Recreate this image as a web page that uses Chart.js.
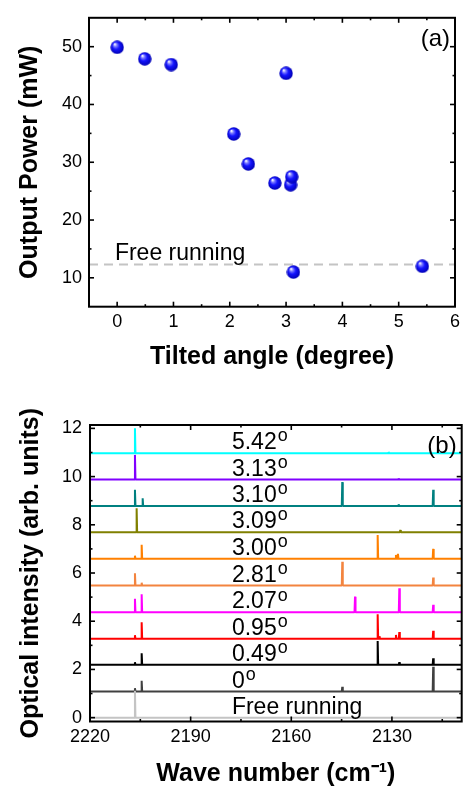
<!DOCTYPE html>
<html>
<head>
<meta charset="utf-8">
<script src="https://cdn.jsdelivr.net/npm/chart.js@4.4.1/dist/chart.umd.min.js"></script>
<style>
  html, body { margin: 0; padding: 0; background: #fff; }
  #wrap { position: relative; width: 465px; height: 789px; overflow: hidden; }
  canvas { position: absolute; left: 0; }
  #chartA { top: 0; }
  #chartB { top: 395px; }
</style>
</head>
<body>
<div id="wrap">
  <canvas id="chartA" width="465" height="395"></canvas>
  <canvas id="chartB" width="465" height="394"></canvas>
</div>
<script>
// ---- (a) potencia de salida vs angulo ----
const angles = [0, 0.49, 0.96, 2.07, 2.33, 2.80, 3.00, 3.08, 3.10, 3.13, 5.42];
const powers = [49.9, 47.9, 46.9, 34.9, 29.7, 26.4, 45.4, 26.1, 27.5, 11.0, 12.0];
const freeRunningPower = 12.3;
const angleTicks = [0, 1, 2, 3, 4, 5, 6];
const angleMinor = [0.5, 1.5, 2.5, 3.5, 4.5, 5.5];
const powerTicks = [10, 20, 30, 40, 50];
const powerMinor = [15, 25, 35, 45];

// ---- (b) espectros ----
const traceLabels = ["Free running", "0", "0.49", "0.95", "2.07", "2.81", "3.00", "3.09", "3.10", "3.13", "5.42"];
const traceOffsets = [0, 1.08, 2.19, 3.27, 4.37, 5.48, 6.59, 7.69, 8.78, 9.88, 10.97];
// picos: [numero de onda, intensidad]
const tracePeaks = [
  [[2206.6, 1.12]],
  [[2206.6, 1.22], [2204.6, 1.53], [2144.8, 1.28], [2117.7, 2.11]],
  [[2206.6, 2.3], [2204.6, 2.67], [2134.25, 3.18], [2127.8, 2.3], [2117.7, 2.46]],
  [[2206.6, 3.42], [2204.6, 3.96], [2134.25, 4.29], [2133.7, 3.38], [2128.8, 3.43], [2127.8, 3.55], [2117.7, 3.6]],
  [[2206.6, 4.93], [2204.6, 5.12], [2141.0, 5.02], [2127.8, 5.37], [2117.7, 4.68]],
  [[2206.6, 5.99], [2204.6, 5.6], [2144.8, 6.47], [2117.7, 5.81]],
  [[2206.6, 6.72], [2204.6, 7.17], [2134.25, 7.58], [2128.8, 6.75], [2128.2, 6.8], [2117.7, 7.0]],
  [[2206.1, 8.69], [2127.5, 7.78]],
  [[2206.6, 9.45], [2204.3, 9.1], [2144.8, 9.77], [2128.0, 8.85], [2117.7, 9.45]],
  [[2206.6, 10.9], [2128.0, 9.93]],
  [[2206.6, 12.0], [2131.0, 11.02]]
];
const waveTicks = [2220, 2190, 2160, 2130];
const waveMinor = [2205, 2175, 2145, 2115];
const intensityTicks = [0, 2, 4, 6, 8, 10, 12];
const intensityMinor = [1, 3, 5, 7, 9, 11];

const traceColors = ["#c4c4c4", "#404040", "#000000", "#ff0000", "#ff00ff", "#f3843f",
  "#ff8000", "#808000", "#008080", "#8000ff", "#00ffff"];

const familia = "'Liberation Sans', Arial, sans-serif";
Chart.defaults.font.family = familia;
Chart.defaults.color = "#000";

// esfera azul para los puntos
function crearEsfera(r) {
  const c = document.createElement("canvas");
  c.width = c.height = r * 2;
  const g = c.getContext("2d");
  const grad = g.createRadialGradient(r - r * 0.35, r - r * 0.45, r * 0.05, r, r, r);
  grad.addColorStop(0, "#ffffff");
  grad.addColorStop(0.22, "#7a7aff");
  grad.addColorStop(0.5, "#1414ff");
  grad.addColorStop(1, "#0000b0");
  g.fillStyle = grad;
  g.beginPath();
  g.arc(r, r, r - 0.3, 0, Math.PI * 2);
  g.fill();
  return c;
}

// texto con "o" en superindice
function textoGrado(ctx, txt, x, cy, size, grado) {
  ctx.font = `${size}px ${familia}`;
  ctx.textAlign = "left";
  ctx.textBaseline = "alphabetic";
  const base = cy + size * 0.358;
  ctx.fillText(txt, x, base);
  if (grado) {
    const w = ctx.measureText(txt).width;
    const os = size * 0.78;
    ctx.font = `${os}px ${familia}`;
    ctx.fillText("o", x + w + 1, base - size * 0.716 - 1 + os * 0.53);
  }
}

// marco, ticks hacia dentro y textos
const marcoPlugin = {
  id: "marco",
  afterDatasetsDraw(chart, args, opts) {
    const ctx = chart.ctx;
    const { left, right, top, bottom } = chart.chartArea;
    const sx = chart.scales.x, sy = chart.scales.y;
    ctx.save();
    ctx.strokeStyle = "#000";
    ctx.lineWidth = 1.6;
    const linea = (x1, y1, x2, y2) => { ctx.beginPath(); ctx.moveTo(x1, y1); ctx.lineTo(x2, y2); ctx.stroke(); };
    const marcarX = (vals, len) => vals.forEach((v) => {
      const p = sx.getPixelForValue(v);
      linea(p, bottom, p, bottom - len);
      linea(p, top, p, top + len);
    });
    const marcarY = (vals, len) => vals.forEach((v) => {
      const p = sy.getPixelForValue(v);
      linea(left, p, left + len, p);
      linea(right, p, right - len, p);
    });
    marcarX(opts.xMajor, 5);
    marcarX(opts.xMinor, 2.5);
    marcarY(opts.yMajor, 5);
    marcarY(opts.yMinor, 2.5);
    ctx.lineWidth = 2;
    ctx.strokeRect(left, top, right - left, bottom - top);

    ctx.fillStyle = "#000";
    ctx.font = `24px ${familia}`;
    ctx.textAlign = "right";
    ctx.textBaseline = "middle";
    ctx.fillText(opts.panel, right - 5, top + opts.panelDy);
    (opts.textos || []).forEach((t) => {
      textoGrado(ctx, t.texto, sx.getPixelForValue(t.x), sy.getPixelForValue(t.y) + (t.dy || 0), 23, t.grado);
    });
    ctx.restore();
  }
};

function fijarTicks(valores) {
  return (s) => { s.ticks = valores.map((v) => ({ value: v })); };
}
const sinComa = (v) => String(v);

// ---------- grafica (a) ----------
const ctxA = document.getElementById("chartA").getContext("2d");
new Chart(ctxA, {
  type: "scatter",
  data: {
    datasets: [
      {
        data: angles.map((a, i) => ({ x: a, y: powers[i] })),
        pointStyle: crearEsfera(7),
        pointRadius: 7,
        order: 1
      },
      {
        data: [{ x: -0.5, y: freeRunningPower }, { x: 6, y: freeRunningPower }],
        showLine: true,
        borderColor: "#c4c4c4",
        borderWidth: 2,
        borderDash: [9, 6],
        pointRadius: 0,
        order: 2
      }
    ]
  },
  options: {
    responsive: false,
    animation: false,
    devicePixelRatio: 1,
    layout: { padding: { top: 8.3, right: 5, left: 0, bottom: 0 } },
    plugins: {
      legend: { display: false },
      tooltip: { enabled: false },
      marco: {
        xMajor: angleTicks, xMinor: angleMinor, yMajor: powerTicks, yMinor: powerMinor,
        panel: "(a)", panelDy: 22,
        textos: [{ texto: "Free running", x: -0.04, y: freeRunningPower, dy: -12.5, grado: false }]
      }
    },
    scales: {
      x: {
        type: "linear", min: -0.5, max: 6,
        afterBuildTicks: fijarTicks(angleTicks),
        afterFit: (s) => { s.height = 88.3; },
        grid: { display: false, drawTicks: false },
        border: { display: false },
        ticks: { font: { size: 18 }, color: "#000", padding: 5, callback: sinComa },
        title: { display: true, text: "Tilted angle (degree)", font: { size: 25, weight: "bold" }, padding: { top: 0, bottom: 23 } }
      },
      y: {
        type: "linear", min: 5, max: 55,
        afterBuildTicks: fijarTicks(powerTicks),
        afterFit: (s) => { s.width = 89; },
        grid: { display: false, drawTicks: false },
        border: { display: false },
        ticks: { font: { size: 18 }, color: "#000", padding: 7, callback: sinComa },
        title: { display: true, text: "Output Power (mW)", font: { size: 25, weight: "bold" }, padding: { top: 15, bottom: 0 } }
      }
    }
  },
  plugins: [marcoPlugin]
});

// ---------- grafica (b) ----------
const ancho = 0.15;
const datasetsB = traceLabels.map((nombre, i) => {
  const base = traceOffsets[i];
  const puntos = [{ x: 2220, y: base }];
  tracePeaks[i].forEach(([w, h]) => {
    puntos.push({ x: w + ancho, y: base }, { x: w, y: h }, { x: w - ancho, y: base });
  });
  puntos.push({ x: 2109, y: base });
  return {
    label: nombre,
    data: puntos,
    showLine: true,
    borderColor: traceColors[i],
    borderWidth: 2,
    borderJoinStyle: "bevel",
    pointRadius: 0,
    tension: 0
  };
});

const ctxB = document.getElementById("chartB").getContext("2d");
new Chart(ctxB, {
  type: "scatter",
  data: { datasets: datasetsB },
  options: {
    responsive: false,
    animation: false,
    devicePixelRatio: 1,
    layout: { padding: { top: 30, right: 3.3, left: 0, bottom: 0 } },
    plugins: {
      legend: { display: false },
      tooltip: { enabled: false },
      marco: {
        xMajor: waveTicks, xMinor: waveMinor, yMajor: intensityTicks, yMinor: intensityMinor,
        panel: "(b)", panelDy: 21,
        textos: traceLabels.map((t, i) => ({ texto: t, x: 2177.7, y: traceOffsets[i] + 0.5, grado: t !== "Free running" }))
      }
    },
    scales: {
      x: {
        type: "linear", min: 2109.2, max: 2220, reverse: true,
        afterBuildTicks: fijarTicks(waveTicks),
        afterFit: (s) => { s.height = 67.5; },
        grid: { display: false, drawTicks: false },
        border: { display: false },
        ticks: { font: { size: 18 }, color: "#000", padding: 5, callback: sinComa },
        title: { display: true, text: "Wave number (cm\u207B\u00B9)", font: { size: 25, weight: "bold" }, padding: { top: 0, bottom: 0 } }
      },
      y: {
        type: "linear", min: -0.16, max: 12.14,
        afterBuildTicks: fijarTicks(intensityTicks),
        afterFit: (s) => { s.width = 90; },
        grid: { display: false, drawTicks: false },
        border: { display: false },
        ticks: { font: { size: 18 }, color: "#000", padding: 8, callback: sinComa },
        title: { display: true, text: "Optical intensity (arb. units)", font: { size: 25, weight: "bold" }, padding: { top: 16, bottom: 0 } }
      }
    }
  },
  plugins: [marcoPlugin]
});
</script>
</body>
</html>
